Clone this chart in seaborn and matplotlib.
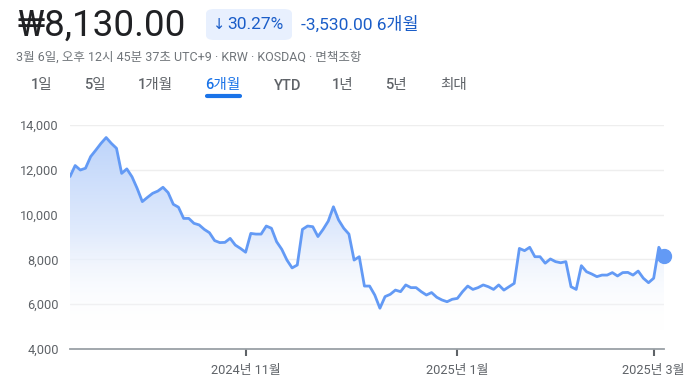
import numpy as np
import pandas as pd
import matplotlib
matplotlib.use("Agg")
import matplotlib.pyplot as plt
import seaborn as sns
from matplotlib.colors import LinearSegmentedColormap
from matplotlib.patches import FancyBboxPatch

# ---- data (daily closes, trading-day index 0..115) ----
prices = [11700, 12190, 11990, 12070, 12590, 12880, 13180, 13440, 13180, 12960,
          11840, 12040, 11690, 11170, 10580, 10770, 10950, 11050, 11220, 10980,
          10460, 10330, 9830, 9830, 9610, 9540, 9340, 9190, 8840, 8750,
          8760, 8940, 8640, 8490, 8320, 9160, 9130, 9130, 9490, 9390,
          8790, 8450, 7970, 7620, 7750, 9340, 9490, 9460, 9020, 9340,
          9710, 10350, 9760, 9390, 9130, 7970, 8120, 6810, 6810, 6410,
          5820, 6340, 6440, 6630, 6560, 6860, 6740, 6740, 6560, 6410,
          6520, 6310, 6190, 6110, 6220, 6260, 6560, 6810, 6660, 6740,
          6860, 6780, 6660, 6860, 6630, 6780, 6930, 8490, 8390, 8540,
          8120, 8120, 7830, 8020, 7900, 7850, 7900, 6780, 6660, 7720,
          7450, 7350, 7230, 7300, 7300, 7410, 7260, 7410, 7420, 7300,
          7480, 7160, 6960, 7160, 8540, 8130]
xtick_idx = [34, 75, 113]
xtick_labels = ["2024년 11월", "2025년 1월", "2025년 3월"]
ytick_values = [4000, 6000, 8000, 10000, 12000, 14000]

price_text = "₩8,130.00"
change_arrow = "↓"
change_pct = "30.27%"
change_abs = "-3,530.00 6개월"
subtitle = "3월 6일, 오후 12시 45분 37초 UTC+9 · KRW · KOSDAQ · 면책조항"
tabs = ["1일", "5일", "1개월", "6개월", "YTD", "1년", "5년", "최대"]
tab_x = [42, 95, 155, 223, 288, 343, 396, 454]
active_tab = "6개월"

df = pd.DataFrame({"idx": np.arange(len(prices)), "price": prices})

sns.set_theme(style="white")
plt.rcParams["font.family"] = ["Roboto", "Noto Sans CJK KR", "DejaVu Sans"]

W, H = 696, 391
fig = plt.figure(figsize=(W / 100, H / 100), dpi=100)
fig.patch.set_facecolor("white")

line_color = "#639af5"
grey = "#5f6368"

ax = fig.add_axes([70 / W, 1 - 349 / H, (664 - 70) / W, (349 - 125) / H])
ax.set_facecolor("white")

# gridlines
for v in ytick_values[1:]:
    ax.axhline(v, color="#eeeeee", lw=1, zorder=0)

# gradient fill under line
poly = ax.fill_between(df["idx"], df["price"], 4000, facecolor="none", edgecolor="none")
cmap = LinearSegmentedColormap.from_list(
    "g", [(1, 1, 1, 0), (0.88, 0.92, 0.99, 1), (0.74, 0.83, 0.98, 1)])
grad = np.linspace(1, 0, 256).reshape(-1, 1)
im = ax.imshow(grad, extent=[0, len(prices) - 1, 4800, 13600], aspect="auto",
               cmap=cmap, origin="upper", zorder=1, interpolation="bilinear")
im.set_clip_path(poly.get_paths()[0], transform=ax.transData)

sns.lineplot(data=df, x="idx", y="price", ax=ax, color=line_color, lw=2, zorder=3)
ax.plot(df["idx"].iloc[-1], df["price"].iloc[-1], "o", color=line_color,
        markersize=10, clip_on=False, zorder=4)

ax.set_xlim(0, len(prices) - 1)
ax.set_ylim(4000, 14000)
for s in ["top", "right", "left"]:
    ax.spines[s].set_visible(False)
ax.spines["bottom"].set_color("#9aa0a6")
ax.spines["bottom"].set_linewidth(1.3)

ax.set_yticks(ytick_values)
ax.set_yticklabels([f"{v:,}" for v in ytick_values], color=grey, fontsize=9.2)
ax.set_xticks(xtick_idx)
ax.set_xticklabels(xtick_labels, color=grey, fontsize=9.2)
ax.tick_params(axis="y", length=0, pad=8)
ax.tick_params(axis="x", length=5, width=1.5, color="#5f6368", pad=6, direction="out", bottom=True)
ax.set_xlabel("")
ax.set_ylabel("")

# ---- header ----
fig.text(17 / W, 1 - 26 / H, price_text, fontsize=26.5, color="#202124",
         va="center", ha="left")
badge = FancyBboxPatch((206 / W, 1 - 40 / H), 86 / W, 31 / H,
                       boxstyle="round,pad=0,rounding_size=0.012",
                       transform=fig.transFigure, facecolor="#e8f0fe",
                       edgecolor="none")
fig.add_artist(badge)
fig.text(219 / W, 1 - 24.5 / H, change_arrow, fontsize=10.5, color="#1a5dc8",
         va="center", ha="center", family=["DejaVu Sans"])
fig.text(227 / W, 1 - 24.5 / H, change_pct, fontsize=12.5, color="#1a5dc8",
         va="center", ha="left")
fig.text(301 / W, 1 - 24.5 / H, change_abs, fontsize=12.5, color="#1a5dc8",
         va="center", ha="left")
fig.text(16 / W, 1 - 57.5 / H, subtitle, fontsize=9, color="#70757a",
         va="center", ha="left")

for t, x in zip(tabs, tab_x):
    c = "#1a73e8" if t == active_tab else grey
    fig.text(x / W, 1 - 85.5 / H, t, fontsize=10.5, color=c, va="center",
             ha="center", fontweight="medium")
    if t == active_tab:
        fig.add_artist(plt.Line2D([(x - 16) / W, (x + 17) / W], [1 - 95.5 / H] * 2,
                                  transform=fig.transFigure, color="#1a73e8",
                                  lw=3, solid_capstyle="round"))

fig.savefig("out.png", dpi=100, facecolor="white")
